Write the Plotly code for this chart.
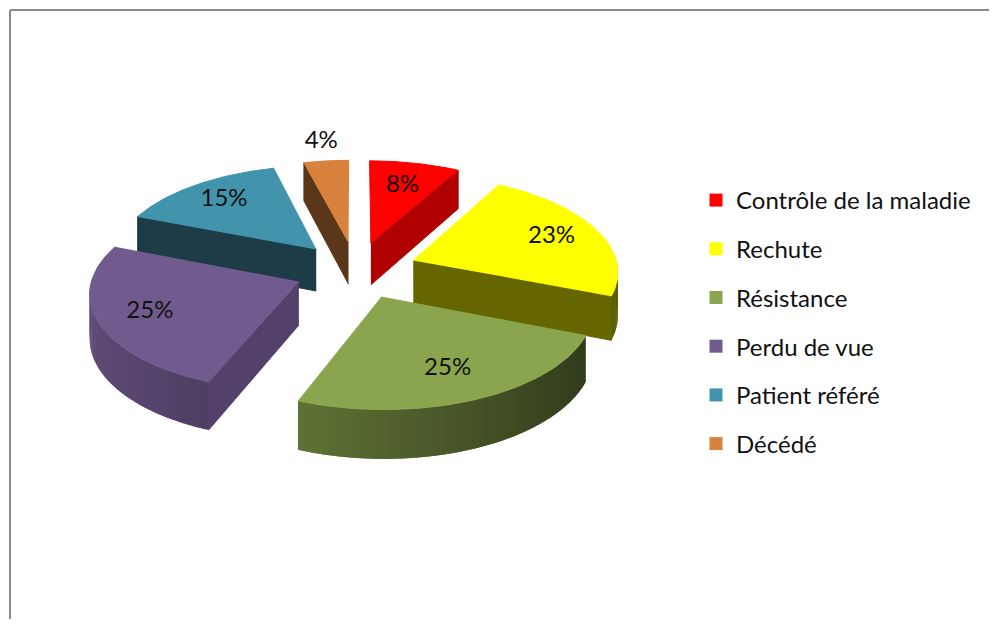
import numpy as np
import plotly.graph_objects as go

# ---- data ----
labels = ["Contrôle de la maladie", "Rechute", "Résistance",
          "Perdu de vue", "Patient référé", "Décédé"]
values = [8, 23, 25, 25, 15, 4]
pct_text = ["8%", "23%", "25%", "25%", "15%", "4%"]

# ---- styles ----
top_colors = ["#FF0000", "#FFFF00", "#8AA54E", "#715A8E", "#4194AC", "#D9823E"]
edge_colors = ["#B00000", "#666600", "#4F6330", "#53406B", "#1E3C48", "#5A3719"]
label_dist = [1.0, 1.05, 1.02, 1.05, 1.05, 1.56]

FONT = "Lato, 'Open Sans', sans-serif"

# page frame (plotly div sits inside the 8px body margin)
OFF = 8
PW, PH = 981, 611

# fake 3d projection of the pie
CX, CY = 356, 270
RX, RY = 205, 95.5
EXPLODE = 0.3
PERSP = 0.1
DEPTH = 43


def proj(u, w, z=0.0):
    k = 1.0 / (1.0 + PERSP * w)
    return CX + RX * u * k, CY - (RY * w + z) * k


def shade(hexc, f):
    h = hexc.lstrip("#")
    r, g, b = (int(h[j:j + 2], 16) for j in (0, 2, 4))
    return "rgb(%d,%d,%d)" % (min(255, r * f), min(255, g * f), min(255, b * f))


def sn(a):
    return np.sin(np.radians(a))


def cs(a):
    return np.cos(np.radians(a))


fig = go.Figure()


def poly(pts, color, lw=1):
    xs = [p[0] for p in pts]
    ys = [p[1] for p in pts]
    fig.add_trace(go.Scatter(
        x=xs, y=ys, mode="lines", fill="toself", fillcolor=color,
        line=dict(color=color, width=lw), hoverinfo="skip", showlegend=False,
    ))


frac = np.array(values, dtype=float) / sum(values)
ends = np.cumsum(frac) * 360
starts = ends - frac * 360
mids = (starts + ends) / 2

# far slices first
order = sorted(range(len(values)), key=lambda i: -cs(mids[i]))
for i in order:
    a0, a1, m = starts[i], ends[i], mids[i]
    eu, ew = EXPLODE * sn(m), EXPLODE * cs(m)

    # radial cut faces that look towards the viewer
    for edge, normal in ((a0, a0 - 90), (a1, a1 + 90)):
        if cs(normal) < -0.05:
            pts = [proj(eu, ew, 0), proj(eu + sn(edge), ew + cs(edge), 0),
                   proj(eu + sn(edge), ew + cs(edge), -DEPTH), proj(eu, ew, -DEPTH)]
            poly(pts, edge_colors[i])

    # outer wall (front half only), shaded in thin overlapping strips
    lo, hi = max(a0, 90), min(a1, 270)
    if hi > lo:
        n = max(2, int(hi - lo))
        cuts = np.linspace(lo, hi, n + 1)
        for t0, t1 in zip(cuts[:-1], cuts[1:]):
            f = 0.6 - 0.25 * sn((t0 + t1) / 2)
            ts = np.linspace(t0, min(hi, t1 + 0.8), 3)
            pts = [proj(eu + sn(t), ew + cs(t), 0) for t in ts]
            pts += [proj(eu + sn(t), ew + cs(t), -DEPTH) for t in ts[::-1]]
            poly(pts, shade(top_colors[i], f), lw=0)

    # top face
    ts = np.linspace(a0, a1, 80)
    pts = [proj(eu, ew, 0)] + [proj(eu + sn(t), ew + cs(t), 0) for t in ts]
    poly(pts, top_colors[i])

# percentage labels
lx, ly = [], []
for i in range(len(values)):
    d = label_dist[i]
    px, py = proj(d * sn(mids[i]), d * cs(mids[i]), 0)
    lx.append(px)
    ly.append(py)
fig.add_trace(go.Scatter(
    x=lx, y=ly, mode="text", text=pct_text,
    textfont=dict(family=FONT, size=24, color="#111111"),
    hoverinfo="skip", showlegend=False,
))

# legend entries
for i, name in enumerate(labels):
    fig.add_trace(go.Scatter(
        x=[None], y=[None], mode="markers", name=name, legendgroup=str(i),
        marker=dict(symbol="square", size=13, color=top_colors[i]),
    ))

fig.update_layout(
    width=PW, height=PH,
    margin=dict(l=0, r=0, t=0, b=0, autoexpand=False),
    paper_bgcolor="white", plot_bgcolor="white",
    xaxis=dict(range=[OFF, OFF + PW], visible=False, fixedrange=True),
    yaxis=dict(range=[OFF + PH, OFF], visible=False, fixedrange=True),
    legend=dict(
        x=(696 - OFF) / PW, y=1 - (178 - OFF) / PH,
        xanchor="left", yanchor="top",
        font=dict(family=FONT, size=24, color="#111111"),
        tracegroupgap=14.5, bgcolor="rgba(0,0,0,0)",
    ),
    shapes=[
        dict(type="line", xref="x", yref="y", x0=10, y0=OFF + PH, x1=10, y1=10,
             line=dict(color="#8A8A8A", width=2)),
        dict(type="line", xref="x", yref="y", x0=10, y0=10, x1=OFF + PW, y1=10,
             line=dict(color="#8A8A8A", width=2)),
    ],
)

fig.write_html("out.html")
